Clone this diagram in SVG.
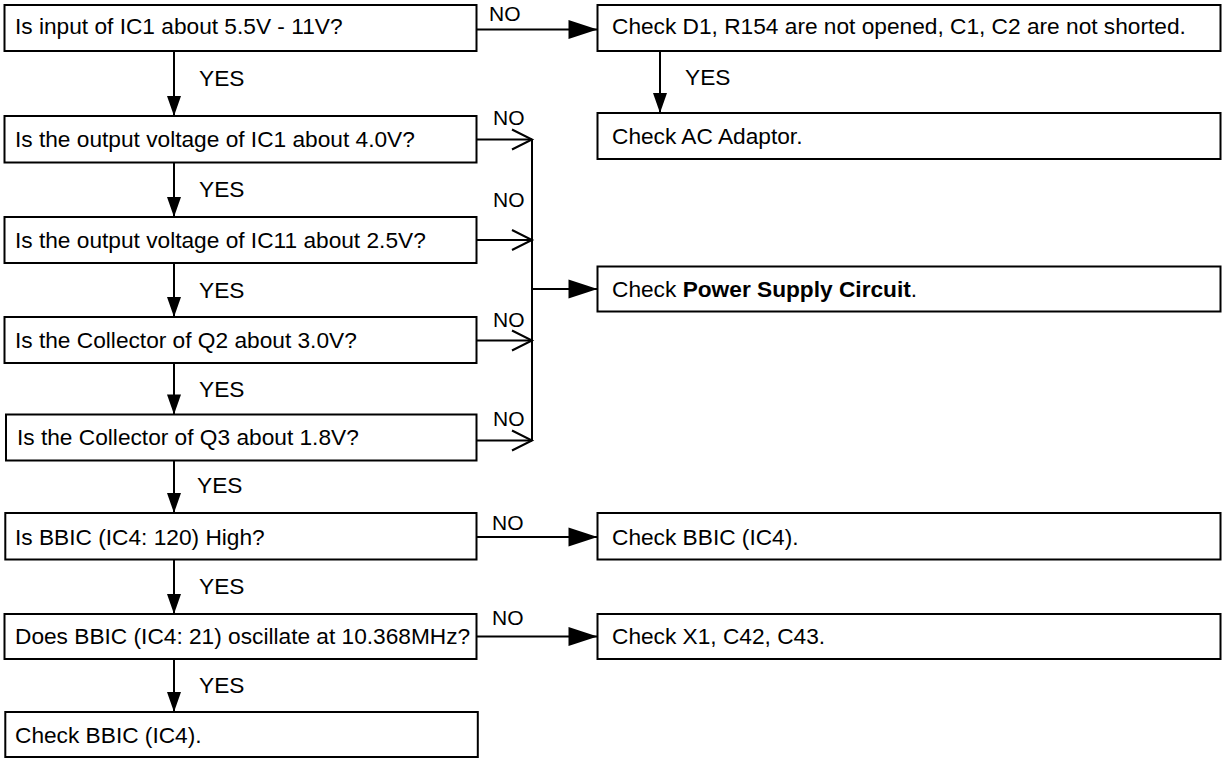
<svg xmlns="http://www.w3.org/2000/svg" width="1224" height="758" viewBox="0 0 1224 758">
<style>
.box{fill:#fff;stroke:#000;stroke-width:2}
.t{font-family:"Liberation Sans",Arial,Helvetica,sans-serif;font-size:22.7px;fill:#000}
.lbl{font-family:"Liberation Sans",Arial,Helvetica,sans-serif;font-size:21px;fill:#000}
.ln{stroke:#000;stroke-width:2;fill:none}
.dn{marker-end:url(#ad)}
.rt{marker-end:url(#ar)}
.op{marker-end:url(#ao)}
</style>
<defs>
<marker id="ad" markerUnits="userSpaceOnUse" markerWidth="20" markerHeight="14" refX="20" refY="7" orient="auto" overflow="visible"><path d="M0,0 L20,7 L0,14 Z" fill="#000"/></marker>
<marker id="ar" markerUnits="userSpaceOnUse" markerWidth="29" markerHeight="19" refX="29" refY="9.5" orient="auto" overflow="visible"><path d="M0,0 L29,9.5 L0,19 Z" fill="#000"/></marker>
<marker id="ao" markerUnits="userSpaceOnUse" markerWidth="20" markerHeight="20" refX="20" refY="10" orient="auto" overflow="visible"><path d="M0,0 L20,10 L0,20" fill="none" stroke="#000" stroke-width="2"/></marker>
</defs>
<rect width="1224" height="758" fill="#fff"/>
<g id="connectors">
<line class="ln dn" x1="174" y1="51" x2="174" y2="116"/>
<line class="ln dn" x1="174" y1="162.5" x2="174" y2="217"/>
<line class="ln dn" x1="174" y1="263" x2="174" y2="317"/>
<line class="ln dn" x1="174" y1="363" x2="174" y2="414.5"/>
<line class="ln dn" x1="174" y1="460.5" x2="174" y2="513"/>
<line class="ln dn" x1="174" y1="559.5" x2="174" y2="614"/>
<line class="ln dn" x1="174" y1="659" x2="174" y2="712"/>
<line class="ln dn" x1="660" y1="51" x2="660" y2="113"/>
<line class="ln rt" x1="476.5" y1="29.5" x2="597.5" y2="29.5"/>
<line class="ln rt" x1="476.5" y1="537" x2="597.5" y2="537"/>
<line class="ln rt" x1="476.5" y1="636.5" x2="597.5" y2="636.5"/>
<line class="ln op" x1="476.5" y1="139.5" x2="532" y2="139.5"/>
<line class="ln op" x1="476.5" y1="240" x2="532" y2="240"/>
<line class="ln op" x1="476.5" y1="340.5" x2="532" y2="340.5"/>
<line class="ln op" x1="476.5" y1="440.5" x2="532" y2="440.5"/>
<line class="ln" x1="532" y1="139.5" x2="532" y2="440.5"/>
<line class="ln rt" x1="532" y1="289" x2="597.5" y2="289"/>
<text class="t" x="199" y="86">YES</text>
<text class="t" x="199" y="197">YES</text>
<text class="t" x="199" y="298">YES</text>
<text class="t" x="199" y="397">YES</text>
<text class="t" x="197" y="493">YES</text>
<text class="t" x="199" y="594">YES</text>
<text class="t" x="199" y="693">YES</text>
<text class="t" x="685" y="85">YES</text>
<text class="lbl" x="489" y="21">NO</text>
<text class="lbl" x="493" y="125">NO</text>
<text class="lbl" x="493" y="207">NO</text>
<text class="lbl" x="493" y="327">NO</text>
<text class="lbl" x="493" y="426">NO</text>
<text class="lbl" x="492" y="530">NO</text>
<text class="lbl" x="492" y="625">NO</text>
</g>
<g id="q1"><rect class="box" x="4.5" y="5" width="472" height="46"/><text class="t" x="15" y="34">Is input of IC1 about 5.5V - 11V?</text></g>
<g id="q2"><rect class="box" x="4.5" y="116" width="472" height="46.5"/><text class="t" x="15" y="147">Is the output voltage of IC1 about 4.0V?</text></g>
<g id="q3"><rect class="box" x="4.5" y="217" width="472" height="46"/><text class="t" x="15" y="248">Is the output voltage of IC11 about 2.5V?</text></g>
<g id="q4"><rect class="box" x="4.5" y="317" width="472" height="46"/><text class="t" x="15" y="348">Is the Collector of Q2 about 3.0V?</text></g>
<g id="q5"><rect class="box" x="6" y="414.5" width="470.5" height="46"/><text class="t" x="17" y="445">Is the Collector of Q3 about 1.8V?</text></g>
<g id="q6"><rect class="box" x="5.3" y="513" width="471.2" height="46.5"/><text class="t" x="15" y="545">Is BBIC (IC4: 120) High?</text></g>
<g id="q7"><rect class="box" x="4.5" y="614" width="472" height="45"/><text class="t" x="15" y="644">Does BBIC (IC4: 21) oscillate at 10.368MHz?</text></g>
<g id="r8"><rect class="box" x="5.3" y="712" width="472.5" height="45"/><text class="t" x="15" y="743">Check BBIC (IC4).</text></g>
<g id="c1"><rect class="box" x="597.5" y="5" width="623" height="46"/><text class="t" x="612" y="34">Check D1, R154 are not opened, C1, C2 are not shorted.</text></g>
<g id="c2"><rect class="box" x="597.5" y="113" width="623" height="46"/><text class="t" x="612" y="144">Check AC Adaptor.</text></g>
<g id="c3"><rect class="box" x="597.5" y="266.5" width="623" height="45"/><text class="t" x="612" y="297">Check <tspan font-weight="bold">Power Supply Circuit</tspan>.</text></g>
<g id="c4"><rect class="box" x="597.5" y="513" width="623" height="46.5"/><text class="t" x="612" y="545">Check BBIC (IC4).</text></g>
<g id="c5"><rect class="box" x="597.5" y="614" width="623" height="45"/><text class="t" x="612" y="644">Check X1, C42, C43.</text></g>
</svg>
